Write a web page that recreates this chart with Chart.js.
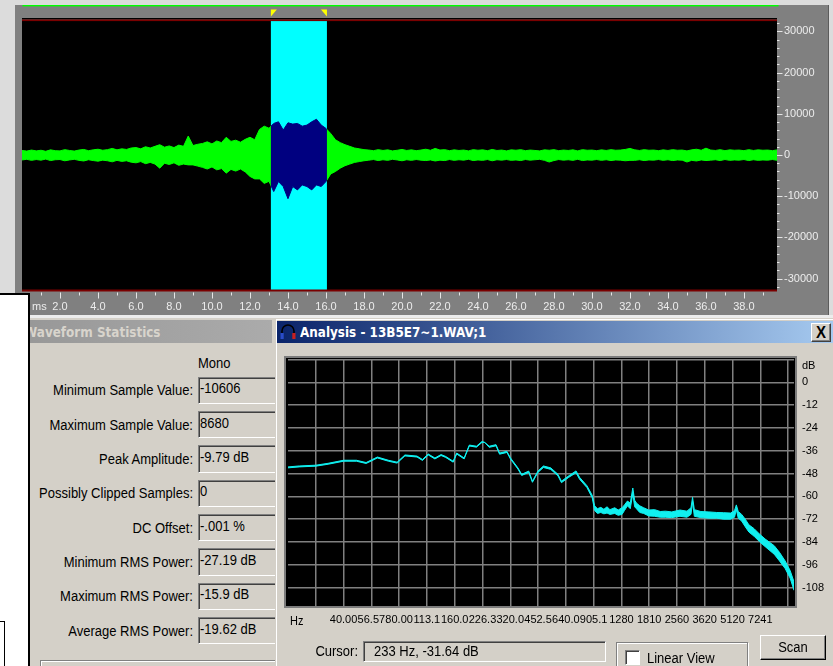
<!DOCTYPE html>
<html>
<head>
<meta charset="utf-8">
<title>Waveform and frequency analysis</title>
<script src="https://cdn.jsdelivr.net/npm/chart.js@4.4.1/dist/chart.umd.min.js"></script>
<style>
  html, body { margin:0; padding:0; }
  body { width:833px; height:666px; position:relative; overflow:hidden; background:#dcdcdc;
         font-family:"Liberation Sans", Arial, sans-serif; font-size:13px; color:#000; }
  .a { position:absolute; box-sizing:border-box; }
  .txt { position:absolute; white-space:nowrap; line-height:16px; height:16px; }
  .txt span { display:inline-block; transform:scaleY(1.15); }
  .sunken { border:1px solid; border-color:#808080 #ffffff #ffffff #808080; box-shadow: inset 1px 1px 0 #404040; }
  .raised { border:1px solid; border-color:#ffffff #404040 #404040 #ffffff; box-shadow: inset -1px -1px 0 #808080; background:#d4d0c8; }
  canvas { position:absolute; }
</style>
</head>
<body>

<!-- waveform view -->
<div class="a" style="left:15px;top:5px;width:813px;height:310px;background:#808080"></div>
<div class="a" style="left:828px;top:5px;width:1px;height:310px;background:#5c5c5c"></div>
<canvas id="wave" width="813" height="310" style="left:15px;top:5px"></canvas>
<div class="a" style="left:0;top:315px;width:833px;height:3px;background:#ececec"></div>

<!-- window behind, left edge -->
<div class="a" style="left:0;top:293px;width:30px;height:373px;background:#fff;border-top:2px solid #000;border-right:2px solid #000"></div>
<div class="a" style="left:0;top:621px;width:5px;height:45px;border-top:1.5px solid #000;border-right:1.5px solid #000"></div>

<!-- statistics panel -->
<div id="stats" class="a" style="left:30px;top:318px;width:245px;height:348px;background:#d4d0c8;overflow:hidden">
  <div class="a" style="left:0;top:2px;width:242px;height:23px;background:linear-gradient(to right,#989898,#ababab)"></div>
  <div class="txt" style="left:-6px;top:6px;font-family:'DejaVu Sans',Verdana,sans-serif;font-weight:bold;font-size:12px;color:#d8d4cc"><span>Waveform Statistics</span></div>
  <div class="txt" style="left:168px;top:37px"><span>Mono</span></div>
  <div class="a" style="left:10px;top:342px;width:240px;height:10px;border-top:1px solid #808080;border-left:1px solid #808080;box-shadow:inset 1px 1px 0 #fff"></div>
</div>

<!-- analysis window -->
<div class="a" style="left:275px;top:318px;width:558px;height:348px;background:#d4d0c8;box-shadow:inset 1px 1px 0 #d4d0c8, inset 2px 2px 0 #ffffff"></div>
<div class="a" style="left:277px;top:321px;width:556px;height:22px;background:linear-gradient(to right,#0a246a,#a6caf0)"></div>
<svg class="a" style="left:279px;top:323px" width="18" height="18" viewBox="0 0 18 18">
  <path d="M3 11 V8 A6 6 0 0 1 15 8 V11" fill="none" stroke="#000" stroke-width="1.6"/>
  <rect x="1.5" y="10" width="3.2" height="6" fill="#2a4cc8"/>
  <rect x="13.3" y="10" width="3.2" height="6" fill="#c82020"/>
</svg>
<div class="txt" style="left:300px;top:324px;font-family:'DejaVu Sans',Verdana,sans-serif;font-weight:bold;font-size:12px;color:#fff"><span>Analysis - 13B5E7~1.WAV;1</span></div>
<div class="a raised" style="left:811px;top:323px;width:20px;height:19px"></div>
<div class="txt" style="left:811px;top:324px;width:20px;text-align:center;font-weight:bold;font-size:15px"><span>X</span></div>

<div class="a" style="left:284px;top:356px;width:513px;height:252px;background:#000;border:2px solid #7c7c7c"></div>
<canvas id="spectrum" width="555" height="290" style="left:278px;top:345px"></canvas>

<div class="txt" style="left:290px;top:612px;font-size:11px"><span>Hz</span></div>
<div class="txt" style="left:290px;top:643px;width:68px;text-align:right"><span>Cursor:</span></div>
<div class="a sunken" style="left:363px;top:641px;width:243px;height:21px"></div>
<div class="txt" style="left:374px;top:643px"><span id="cursorText"></span></div>
<div class="a" style="left:616px;top:642px;width:132px;height:30px;border:1px solid #808080;box-shadow:inset 1px 1px 0 #fff, 1px 1px 0 #fff"></div>
<div class="a sunken" style="left:625px;top:650px;width:15px;height:15px;background:#fff"></div>
<div class="txt" style="left:647px;top:650px"><span>Linear View</span></div>
<div class="a raised" style="left:760px;top:635px;width:66px;height:25px;border-color:#fff #000 #000 #fff"></div>
<div class="txt" style="left:760px;top:639px;width:66px;text-align:center"><span>Scan</span></div>

<script>
// Waveform envelope: peak and trough sample value every 0.25 ms (mono, 16-bit)
const waveStepMs = 0.25;
const waveMax = [
  1100, 950, 1200, 1000, 1150, 900, 1250, 1050, 1000, 1300, 1100, 950, 1200, 1350, 1050, 1250, 1400, 1150, 1300, 1600, 1250, 1500, 1350, 1700,
  1800, 1500, 2000, 1700, 2100, 2500, 1900, 2200, 1800, 2400, 2100, 4600, 2300, 2600,
  2800, 3200, 2700, 3400, 3000, 4300, 3300, 3600, 3100, 3800, 4300, 3700,
  6200, 7000, 6500,
  7660, 8060, 6050, 7820, 7500, 7660, 7000, 7260, 8060, 8680, 7260, 6450,
  5200, 3700, 3000, 2500, 2100, 1700, 1500, 1300,
  1200, 1050, 1300, 1100, 1250, 1000, 1150, 1350, 1100, 1250,
  1050, 1200, 1400, 1150, 1600, 1200, 1300, 1050, 1250, 1100,
  1200, 1000, 1300, 1150, 1250, 1050, 1350, 1100, 1200, 1000,
  1250, 1150, 1300, 1050, 1200, 1100, 1000, 1250, 1150, 1300,
  1050, 1200, 1100, 1250, 1000, 1300, 1150, 1200, 1050, 1250,
  1100, 1300, 1150, 1200, 1350, 1600, 1250, 1100, 1300, 1150,
  1200, 1050, 1250, 1100, 1300, 1150, 1200, 1000, 1250, 1400,
  1150, 1650, 1200, 1100, 1300, 1050, 1250, 1150, 1200, 1050,
  1300, 1100, 1250, 1150, 1200, 1050, 1250
];
const waveMin = [
  -1200, -1050, -1300, -1100, -1250, -1000, -1350, -1150, -1100, -1400, -1200, -1050, -1300, -1450, -1150, -1350, -1500, -1250, -1400, -1650, -1300, -1550, -1400, -1750,
  -1900, -1600, -2100, -1800, -2200, -3200, -2000, -2300, -1900, -2500, -2200, -2400, -2400, -2700,
  -3000, -3400, -2900, -3600, -3300, -4400, -3500, -3900, -3400, -4100, -5200, -5800,
  -5800, -6900, -6400,
  -8870, -6450, -7660, -10606, -7660, -8470, -7260, -7660, -8470, -7260, -7660, -6450,
  -4600, -4000, -3200, -2600, -2200, -1800, -1600, -1400,
  -1250, -1100, -1350, -1150, -1300, -1050, -1200, -1400, -1150, -1300,
  -1100, -1250, -1350, -1200, -1450, -1250, -1350, -1100, -1300, -1150,
  -1250, -1050, -1350, -1200, -1300, -1100, -1400, -1150, -1250, -1100,
  -1300, -1200, -1350, -1100, -1250, -1150, -1050, -1300, -1700, -1350,
  -1100, -1250, -1150, -1300, -1050, -1350, -1200, -1250, -1100, -1300,
  -1150, -1350, -1200, -1250, -1400, -1300, -1300, -1150, -1350, -1200,
  -1250, -1100, -1300, -1150, -1350, -1200, -1250, -1700, -1300, -1450,
  -1200, -1350, -1250, -1150, -1350, -1100, -1300, -1200, -1250, -1100,
  -1350, -1150, -1300, -1200, -1250, -1100, -1300
];
const selectionMs = [13.1, 16.05];
const viewEndMs = 39.74;
const timeTicksMs = [2, 4, 6, 8, 10, 12, 14, 16, 18, 20, 22, 24, 26, 28, 30, 32, 34, 36, 38];
const ampTicks = [-30000, -20000, -10000, 0, 10000, 20000, 30000];

// Frequency analysis of the selection: upper / lower edge of the trace (dB)
const specHz = [20, 23, 28.3, 33, 40, 47, 53, 61, 70, 78,
  86, 100, 107, 115, 125, 135, 143, 157, 164, 180,
  192, 210, 225, 233, 246, 268, 280, 307, 321, 352,
  369, 403, 422, 452, 484, 530, 580, 606, 664, 727,
  760, 833, 890, 917, 950, 990, 1029, 1070, 1110, 1178,
  1230, 1290, 1330, 1380, 1430, 1476, 1510, 1544, 1610, 1690,
  1800, 1937, 2080, 2216, 2400, 2659, 2900, 3050, 3110, 3180,
  3450, 3814, 4200, 4570, 5000, 5250, 5370, 5500, 5738, 6000,
  6280, 6700, 7193, 7700, 8617, 9200, 9870, 10500, 11025];
const specHi = [-44.5, -44, -43.6, -42.6, -41, -41, -42.2, -39.3, -41, -42,
  -38.2, -38.8, -40.6, -37.7, -39.8, -38, -39, -41.5, -37.2, -39.8,
  -33, -33.6, -31.1, -31.64, -33.6, -32.8, -37.2, -36.3, -39.8, -45,
  -48.4, -46.7, -52, -46.7, -44, -45, -48.4, -52, -49.2, -46.6,
  -50, -54.4, -59.5, -65, -66.5, -65.8, -66.8, -65.5, -67, -66,
  -67.2, -66, -64.5, -62.5, -63.5, -55.6, -62, -63.5, -65, -66,
  -67.2, -67, -68, -67.8, -68.2, -67.2, -67.8, -66, -60.5, -67,
  -68, -68.2, -68.5, -68.6, -68.8, -67.5, -64.5, -68, -69.5, -72,
  -75, -77, -80, -82.5, -86, -89.5, -94, -99, -105];
const specLo = [-45, -44.5, -44.1, -43.1, -41.5, -41.5, -42.7, -39.8, -41.5, -42.5,
  -38.7, -39.3, -41.1, -38.2, -40.3, -38.5, -39.5, -42, -37.7, -40.3,
  -33.5, -34.1, -31.6, -31.64, -34.2, -33.4, -37.8, -36.9, -40.4, -45.6,
  -49, -47.4, -52.6, -47.4, -44.8, -45.8, -49.2, -52.8, -50, -47.6,
  -51, -55.4, -60.8, -67.5, -69, -68.5, -69.2, -68.8, -69.5, -69,
  -70, -69.5, -67.5, -65, -66.5, -58.5, -65.5, -66.5, -68.5, -69,
  -70.3, -70.5, -71, -71, -71.2, -70.5, -71, -69.5, -63, -70.5,
  -71.2, -71.5, -71.5, -72, -72, -71, -67, -71.5, -73, -76,
  -78.8, -81, -84, -86.5, -90.5, -94, -98, -103, -109.5];
const freqTicks = [28.28, 40, 56.57, 80, 113.1, 160, 226.3, 320, 452.5, 640, 905.1, 1280, 1810, 2560, 3620, 5120, 7241, 10240];
const freqLabels = ['', '40.00', '56.57', '80.00', '113.1', '160.0', '226.3', '320.0', '452.5', '640.0', '905.1', '1280', '1810', '2560', '3620', '5120', '7241', ''];
const dbTicks = [-108, -96, -84, -72, -60, -48, -36, -24, -12, 0, 12];
const cursorHz = 233, cursorDb = -31.64;

// Statistics of the selection
const statLabels = ['Minimum Sample Value:', 'Maximum Sample Value:', 'Peak Amplitude:', 'Possibly Clipped Samples:',
  'DC Offset:', 'Minimum RMS Power:', 'Maximum RMS Power:', 'Average RMS Power:'];
const statValues = ['-10606', '8680', '-9.79 dB', '0', '-.001 %', '-27.19 dB', '-15.9 dB', '-19.62 dB'];

// ---------- statistics rows ----------
const stats = document.getElementById('stats');
statLabels.forEach((label, i) => {
  const cy = 72.4 + i * 34.33;          // row centre inside the panel
  const l = document.createElement('div');
  l.className = 'txt';
  l.style.cssText = `left:0;width:163px;text-align:right;top:${cy - 8}px`;
  l.innerHTML = `<span>${label}</span>`;
  stats.appendChild(l);
  const box = document.createElement('div');
  box.className = 'a sunken';
  box.style.cssText = `left:167.7px;top:${cy - 13.75}px;width:90px;height:27.5px`;
  stats.appendChild(box);
  const v = document.createElement('div');
  v.className = 'txt';
  v.style.cssText = `left:170px;top:${cy - 10}px`;
  v.innerHTML = `<span>${statValues[i]}</span>`;
  stats.appendChild(v);
});
document.getElementById('cursorText').textContent = `${cursorHz} Hz, ${cursorDb.toFixed(2)} dB`;

Chart.defaults.font.family = '"Liberation Sans", Arial, sans-serif';

// ---------- waveform ----------
const wavePts = arr => arr.map((v, i) => ({ x: i * waveStepMs, y: v }));

const waveDecor = {
  id: 'waveDecor',
  afterDatasetsDraw(chart) {
    const { ctx, chartArea: a, scales: { x } } = chart;
    const s0 = x.getPixelForValue(selectionMs[0]);
    const s1 = x.getPixelForValue(selectionMs[1]);
    ctx.save();
    // selected part of the waveform in navy, on a cyan selection band, over black
    ctx.globalCompositeOperation = 'source-atop';
    ctx.fillStyle = '#000080';
    ctx.fillRect(s0, a.top, s1 - s0, a.bottom - a.top);
    ctx.globalCompositeOperation = 'destination-over';
    ctx.fillStyle = '#00ffff';
    ctx.fillRect(s0, a.top, s1 - s0, a.bottom - a.top);
    ctx.fillStyle = '#000000';
    ctx.fillRect(a.left, a.top, a.right - a.left, a.bottom - a.top);
    ctx.restore();
  },
  afterDraw(chart) {
    const { ctx, chartArea: a, scales: { x, y } } = chart;
    const w = a.right - a.left;
    ctx.save();
    ctx.fillStyle = '#000000';
    ctx.fillRect(a.left, a.top - 2, w, 1.5);
    ctx.fillStyle = '#7a0000';
    ctx.fillRect(a.left, a.top - 0.5, w, 1.6);
    ctx.fillRect(a.left, a.bottom - 0.5, w, 2);
    ctx.fillStyle = '#00ff00';
    ctx.fillRect(a.left + 0.5, 0, w + 1, 1.4);
    ctx.strokeStyle = '#e6e6e6';
    ctx.lineWidth = 1;
    ctx.beginPath();
    for (let ms = 1; ms <= Math.floor(viewEndMs); ms++) {
      const px = Math.round(x.getPixelForValue(ms)) + 0.5;
      ctx.moveTo(px, a.bottom + 2.5);
      ctx.lineTo(px, a.bottom + (ms % 2 ? 5.5 : 8.5));
    }
    for (let v = -32000; v <= 32000; v += 2000) {
      const py = Math.round(y.getPixelForValue(v)) + 0.5;
      ctx.moveTo(a.right, py);
      ctx.lineTo(a.right + (v % 10000 ? 2.5 : 5.5), py);
    }
    ctx.stroke();
    const s0 = x.getPixelForValue(selectionMs[0]);
    const s1 = x.getPixelForValue(selectionMs[1]);
    ctx.fillStyle = '#ffff00';
    ctx.beginPath(); ctx.moveTo(s0, 4.5); ctx.lineTo(s0 + 6, 4.5); ctx.lineTo(s0, 11.5); ctx.closePath(); ctx.fill();
    ctx.beginPath(); ctx.moveTo(s1, 4.5); ctx.lineTo(s1 - 6, 4.5); ctx.lineTo(s1, 11.5); ctx.closePath(); ctx.fill();
    ctx.fillStyle = '#ececec';
    ctx.font = '11px "Liberation Sans", Arial, sans-serif';
    ctx.textBaseline = 'middle';
    ctx.fillText('ms', a.left + 10, a.bottom + 16.5);
    ctx.restore();
  }
};

new Chart(document.getElementById('wave'), {
  type: 'line',
  data: {
    datasets: [
      { data: wavePts(waveMax), borderColor: '#00ff00', backgroundColor: '#00ff00', fill: '+1', borderWidth: 1 },
      { data: wavePts(waveMin), borderColor: '#00ff00', backgroundColor: '#00ff00', fill: false, borderWidth: 1 }
    ]
  },
  options: {
    responsive: false, animation: false, devicePixelRatio: 1,
    layout: { padding: { left: 7, top: 15, right: 0, bottom: 0 } },
    plugins: { legend: { display: false }, tooltip: { enabled: false } },
    elements: { point: { radius: 0 }, line: { tension: 0 } },
    scales: {
      x: {
        type: 'linear', min: 0, max: viewEndMs,
        grid: { display: false, drawTicks: false }, border: { display: false },
        afterBuildTicks: s => { s.ticks = timeTicksMs.map(v => ({ value: v })); },
        afterFit: s => { s.height = 25; },
        ticks: { color: '#ececec', font: { size: 11 }, padding: 10, maxRotation: 0, autoSkip: false, callback: v => v.toFixed(1) }
      },
      y: {
        type: 'linear', position: 'right', min: -32768, max: 32768,
        grid: { display: false, drawTicks: false }, border: { display: false },
        afterBuildTicks: s => { s.ticks = ampTicks.map(v => ({ value: v })); },
        afterFit: s => { s.width = 51; },
        ticks: { color: '#ececec', font: { size: 11 }, padding: 7, autoSkip: false, callback: v => String(v) }
      }
    }
  },
  plugins: [waveDecor]
});

// ---------- spectrum ----------
const specPts = arr => arr.map((v, i) => ({ x: specHz[i], y: v }));
const specDecor = {
  id: 'specDecor',
  afterDraw(chart) {
    const { ctx, chartArea: a, scales: { y } } = chart;
    ctx.save();
    ctx.fillStyle = '#000';
    ctx.font = '11px "Liberation Sans", Arial, sans-serif';
    ctx.textBaseline = 'middle';
    ctx.fillText('dB', a.right + 8, y.getPixelForValue(12) + 6);
    ctx.restore();
  }
};

new Chart(document.getElementById('spectrum'), {
  type: 'line',
  data: {
    datasets: [
      { data: specPts(specHi), borderColor: '#10f0f0', backgroundColor: '#10f0f0', fill: '+1', borderWidth: 1 },
      { data: specPts(specLo), borderColor: '#10f0f0', backgroundColor: '#10f0f0', fill: false, borderWidth: 1 }
    ]
  },
  options: {
    responsive: false, animation: false, devicePixelRatio: 1,
    layout: { padding: { left: 10, top: 12, right: 0, bottom: 0 } },
    plugins: { legend: { display: false }, tooltip: { enabled: false } },
    elements: { point: { radius: 0 }, line: { tension: 0 } },
    scales: {
      x: {
        type: 'logarithmic', min: 20, max: 11025,
        grid: { color: '#808080', lineWidth: 1.5, drawTicks: false }, border: { display: false },
        afterBuildTicks: s => { s.ticks = freqTicks.map(v => ({ value: v })); },
        afterFit: s => { s.height = 28.5; },
        ticks: { color: '#000', font: { size: 11 }, padding: 7, maxRotation: 0, autoSkip: false, callback: (v, i) => freqLabels[i] }
      },
      y: {
        type: 'linear', position: 'right', min: -118, max: 12,
        grid: { color: '#808080', lineWidth: 1.5, drawTicks: false }, border: { display: false },
        afterBuildTicks: s => { s.ticks = dbTicks.map(v => ({ value: v })); },
        afterFit: s => { s.width = 39; },
        ticks: { color: '#000', font: { size: 11 }, padding: 8, autoSkip: false, callback: v => (v === 12 ? '' : String(v)) }
      }
    }
  },
  plugins: [specDecor]
});
</script>
</body>
</html>
